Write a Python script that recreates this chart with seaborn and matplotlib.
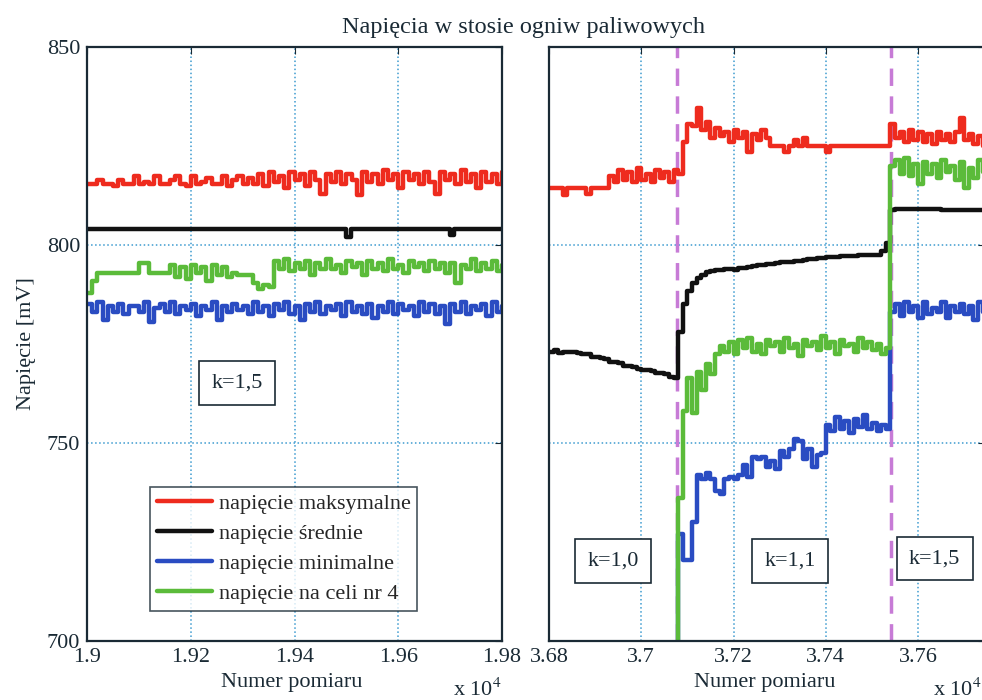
import numpy as np
import pandas as pd
import matplotlib
matplotlib.use('Agg')
import matplotlib.pyplot as plt
from matplotlib.ticker import FuncFormatter
import seaborn as sns
import warnings
warnings.filterwarnings('ignore')

sns.set_style('white')
plt.rcParams['font.family'] = ['Liberation Serif', 'DejaVu Serif']
plt.rcParams['mathtext.fontset'] = 'stix'

# --- dane: lewy panel (k=1,5), numer pomiaru co 10 probek ---
x_left = np.arange(19000, 19801, 10)
max_left = [815.5, 815.5, 816.5, 815.5, 815.5, 815.0, 816.5, 815.5, 815.5, 817.5,
            815.5, 816.0, 815.5, 817.5, 815.5, 815.5, 816.5, 817.5, 815.5, 815.0,
            817.5, 815.5, 816.0, 817.0, 815.5, 815.5, 817.5, 815.0, 816.5, 817.5,
            815.5, 817.0, 815.5, 818.0, 815.0, 818.5, 816.0, 817.5, 814.5, 818.5,
            816.5, 818.0, 815.0, 818.5, 816.5, 813.0, 818.0, 816.0, 818.5, 815.5,
            818.0, 816.5, 812.5, 818.5, 816.0, 818.0, 815.5, 819.0, 816.5, 818.0,
            814.5, 818.5, 816.5, 818.0, 815.5, 818.5, 816.0, 813.0, 818.5, 816.5,
            818.0, 815.5, 819.0, 816.0, 818.0, 814.5, 818.5, 816.0, 818.0, 815.5,
            818.5]
x_mean_left = [19000, 19500, 19508, 19700, 19708, 19800]
mean_left = [804.0, 802.0, 804.0, 802.5, 804.0, 804.0]
min_left = [785.0, 783.0, 785.5, 781.0, 784.5, 783.0, 785.0, 782.5, 784.5, 784.5,
            783.0, 785.5, 780.5, 784.0, 785.0, 783.0, 785.5, 782.5, 784.5, 783.5,
            785.0, 782.0, 784.5, 783.5, 785.5, 781.0, 784.5, 783.0, 785.0, 783.5,
            784.5, 782.5, 785.5, 783.0, 784.5, 782.0, 785.0, 783.5, 785.5, 782.5,
            784.5, 781.0, 785.0, 783.0, 785.5, 782.5, 784.5, 783.5, 785.0, 782.0,
            785.5, 783.0, 784.5, 782.5, 785.0, 781.5, 784.5, 783.0, 785.5, 782.5,
            785.0, 783.5, 784.5, 782.0, 785.5, 783.0, 785.0, 782.5, 784.5, 780.0,
            785.0, 783.0, 785.5, 782.5, 784.5, 783.5, 785.0, 782.0, 785.5, 783.0,
            784.5]
cell4_left = [788.0, 791.0, 793.0, 793.0, 793.0, 793.0, 793.0, 793.0, 793.0, 793.0,
              795.5, 795.5, 793.0, 793.0, 793.0, 793.0, 795.0, 792.0, 794.5, 791.5,
              795.0, 793.0, 794.5, 791.0, 795.0, 792.5, 794.5, 792.0, 793.0, 792.5,
              792.5, 792.5, 790.5, 789.0, 790.0, 789.5, 796.0, 794.0, 796.5, 793.5,
              795.5, 794.0, 796.0, 792.5, 795.5, 794.0, 796.5, 794.0, 795.0, 793.0,
              796.0, 794.5, 795.5, 792.5, 796.0, 794.0, 795.5, 793.5, 796.5, 794.0,
              795.0, 793.0, 796.0, 794.5, 795.5, 793.5, 796.0, 794.0, 795.5, 793.0,
              795.5, 790.5, 795.0, 794.0, 796.5, 793.5, 795.5, 794.0, 796.0, 793.5,
              795.0]

# --- dane: prawy panel (k=1,0 -> 1,1 -> 1,5) ---
x_right = np.arange(36800, 37751, 10)
max_right = [814.5, 814.5, 814.5, 812.5, 814.5, 814.5, 814.5, 814.5, 813.0, 814.5,
             814.5, 814.5, 814.5, 817.5, 816.0, 819.0, 816.5, 818.5, 816.0, 819.5,
             816.5, 818.0, 816.0, 819.0, 817.0, 818.5, 816.0, 819.0, 818.0, 826.0,
             830.5, 830.0, 834.5, 829.0, 831.0, 827.0, 829.5, 827.5, 828.5, 826.0,
             829.0, 827.0, 828.5, 823.5, 828.0, 826.5, 829.0, 827.0, 825.0, 825.0,
             825.0, 823.5, 825.0, 826.5, 825.0, 827.0, 825.0, 825.0, 825.0, 825.0,
             823.5, 825.0, 825.0, 825.0, 825.0, 825.0, 825.0, 825.0, 825.0, 825.0,
             825.0, 825.0, 825.0, 825.0, 830.5, 827.0, 828.5, 826.0, 829.0, 826.5,
             828.5, 826.0, 828.0, 825.5, 828.5, 826.5, 828.0, 826.0, 828.5, 832.0,
             826.5, 828.0, 825.5, 827.5, 825.0, 825.0]
mean_right = [773.0, 773.5, 772.8, 773.0, 773.0, 773.0, 772.8, 772.5, 772.5, 771.7,
              771.7, 771.5, 771.3, 770.5, 770.5, 770.3, 769.5, 769.5, 769.3, 768.8,
              768.4, 768.4, 768.2, 767.6, 767.6, 767.3, 766.7, 766.3, 778.0, 785.0,
              788.5, 790.5, 791.6, 792.5, 793.2, 793.4, 793.6, 793.8, 794.0, 794.0,
              793.8, 794.2, 794.3, 794.5, 794.7, 795.0, 795.0, 795.2, 795.3, 795.5,
              795.6, 795.7, 795.8, 796.0, 796.0, 796.2, 796.4, 796.5, 796.6, 796.8,
              797.0, 797.0, 797.0, 797.1, 797.2, 797.2, 797.3, 797.4, 797.5, 797.5,
              797.5, 797.6, 798.5, 800.5, 808.8, 809.0, 809.0, 809.0, 809.0, 809.0,
              809.0, 809.0, 809.0, 809.0, 809.0, 808.8, 808.8, 808.8, 808.8, 808.8,
              808.8, 808.8, 808.8, 808.8, 808.8, 808.8]
# przy k=1,0 napiecie minimalne i celi nr 4 ponizej zakresu osi
x_cells_right = x_right[27:]
min_right = [690.0,
             727.0, 720.5, 720.5, 730.0, 742.0, 741.0, 742.5, 741.0, 738.0, 737.0,
             741.0, 741.5, 741.0, 742.0, 744.5, 741.5, 746.5, 746.0, 746.5, 744.0,
             745.5, 743.5, 748.0, 746.5, 748.5, 751.0, 750.5, 746.0, 748.5, 744.0,
             747.0, 747.5, 754.5, 753.0, 756.5, 753.5, 755.5, 752.5, 756.0, 754.0,
             757.0, 753.5, 755.0, 753.0, 754.5, 753.5, 783.0, 785.0, 782.0, 785.5,
             783.0, 784.5, 781.5, 785.5, 782.5, 784.0, 783.0, 785.5, 781.5, 784.5,
             783.0, 785.0, 782.5, 784.5, 781.0, 785.5, 783.0, 784.5]
cell4_right = [690.0,
               736.0, 758.0, 766.5, 757.5, 768.0, 763.5, 770.0, 767.5, 772.5, 774.5,
               773.0, 775.5, 772.5, 776.0, 774.0, 776.5, 773.0, 775.0, 772.5, 776.0,
               774.5, 775.5, 773.0, 776.5, 774.0, 775.0, 772.0, 776.0, 774.5, 775.5,
               773.5, 777.0, 774.0, 775.5, 772.5, 776.0, 774.5, 775.0, 773.0, 776.5,
               774.0, 775.5, 773.5, 775.0, 772.5, 774.0, 820.0, 821.5, 818.0, 822.0,
               817.5, 820.5, 815.5, 821.0, 818.0, 820.5, 817.0, 821.5, 818.5, 820.0,
               816.5, 821.0, 814.5, 819.5, 817.0, 821.5, 818.5, 820.0]

switch_points = [37078, 37542]
labels_k_left = [(19289, 765.2, 'k=1,5')]
labels_k_right = [(36939, 720.2, 'k=1,0'), (37322, 720.2, 'k=1,1'), (37636, 720.8, 'k=1,5')]

series_names = ['napięcie maksymalne', 'napięcie średnie', 'napięcie minimalne', 'napięcie na celi nr 4']
colors = ['#ee2b1e', '#111111', '#2a4cc2', '#5bbb3a']

fs = 16
dark = '#1a2a35'

fig = plt.figure(figsize=(9.82, 7), dpi=100)
ax1 = fig.add_axes([87 / 982, 59 / 700, 415 / 982, 594 / 700])
ax2 = fig.add_axes([549 / 982, 59 / 700, 436 / 982, 594 / 700])

left_data = [(x_left, max_left), (x_mean_left, mean_left), (x_left, min_left), (x_left, cell4_left)]
right_data = [(x_right, max_right), (x_right, mean_right), (x_cells_right, min_right), (x_cells_right, cell4_right)]

for (xs, ys), name, c in zip(left_data, series_names, colors):
    sns.lineplot(x=xs, y=ys, ax=ax1, color=c, lw=3.2, drawstyle='steps-post', estimator=None, label=name)
for (xs, ys), c in zip(right_data, colors):
    sns.lineplot(x=xs, y=ys, ax=ax2, color=c, lw=3.2, drawstyle='steps-post', estimator=None)

for xv in switch_points:
    ax2.axvline(xv, color='#c77bd6', ls='--', lw=2.5, dashes=(5, 3), zorder=1.5)

fmt = FuncFormatter(lambda v, p: f'{v / 1e4:g}')
for ax in (ax1, ax2):
    ax.set_ylim(700, 850)
    ax.set_yticks([700, 750, 800, 850])
    ax.xaxis.set_major_formatter(fmt)
    ax.grid(True, linestyle=':', color='#3d9bd0', linewidth=1.1)
    ax.set_axisbelow(True)
    ax.tick_params(direction='in', length=5, top=True, right=True, labelsize=fs,
                   colors=dark, pad=5)
    for s in ax.spines.values():
        s.set_color(dark)
        s.set_linewidth(1.6)
    ax.set_xlabel('')
    ax.set_ylabel('')

ax1.set_xlim(19000, 19800)
ax1.set_xticks([19000, 19200, 19400, 19600, 19800])
ax2.set_xlim(36800, 37745)
ax2.set_xticks([36800, 37000, 37200, 37400, 37600])
ax2.tick_params(labelleft=False)

box = dict(boxstyle='square,pad=0.55', fc='white', ec=dark, lw=1.2)
for xv, yv, t in labels_k_left:
    ax1.text(xv, yv, t, ha='center', va='center', fontsize=fs, color=dark, bbox=box)
for xv, yv, t in labels_k_right:
    ax2.text(xv, yv, t, ha='center', va='center', fontsize=fs, color=dark, bbox=box)

leg = ax1.legend(loc='upper left', bbox_to_anchor=((150 - 87) / 415, (641 - 487) / 594),
                 frameon=True, fancybox=False, edgecolor=dark, fontsize=fs,
                 handlelength=2.5, handletextpad=0.3, labelspacing=0.42,
                 borderpad=0.3, borderaxespad=0)
leg.get_frame().set_linewidth(1.2)

fig.text(524 / 982, 1 - 27 / 700, 'Napięcia w stosie ogniw paliwowych', ha='center', va='center',
         fontsize=17.5, color=dark)
fig.text(27 / 982, 1 - 344 / 700, 'Napięcie [mV]', rotation=90, ha='center', va='center',
         fontsize=fs, color=dark)
fig.text(292 / 982, 1 - 683 / 700, 'Numer pomiaru', ha='center', va='center', fontsize=fs, color=dark)
fig.text(765 / 982, 1 - 683 / 700, 'Numer pomiaru', ha='center', va='center', fontsize=fs, color=dark)
fig.text(453 / 982, 1 - 690 / 700, r'x 10$^{4}$', ha='left', va='center', fontsize=fs, color=dark)
fig.text(933 / 982, 1 - 690 / 700, r'x 10$^{4}$', ha='left', va='center', fontsize=fs, color=dark)

fig.savefig('out.png', dpi=100)
plt.close()
